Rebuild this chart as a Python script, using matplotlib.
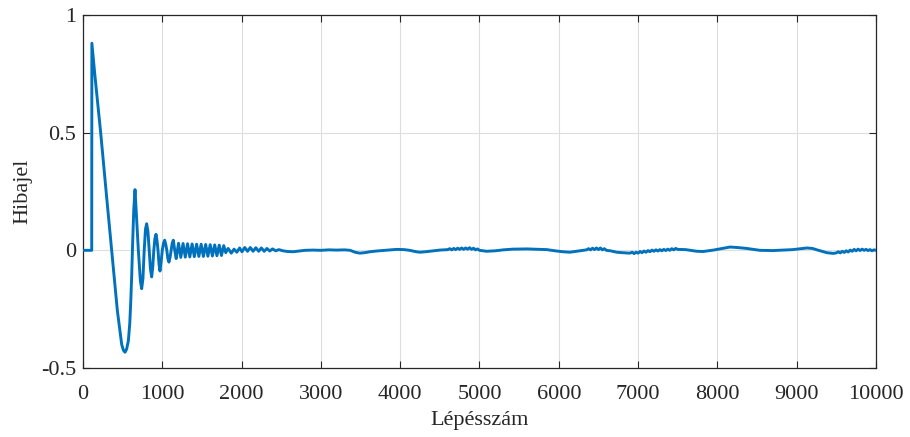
import matplotlib
matplotlib.use('Agg')
import matplotlib.pyplot as plt

# hibajel (error signal), step -> value
# startup: step jump, big undershoot, then damped oscillation
start_steps = [0, 110, 112, 151, 223, 300, 362, 433, 488, 510, 530, 550, 572, 590, 602, 614, 626, 640, 656,
               672, 698, 724, 740, 756, 772, 788, 803, 819, 835, 851, 866, 880, 893, 907, 921,
               934, 946, 959, 971, 985, 1000, 1015, 1030, 1044, 1057, 1070, 1084, 1098, 1112,
               1125, 1139, 1157, 1175]
start_err = [0, 0, 0.88, 0.74, 0.5, 0.22, 0.0, -0.255, -0.40, -0.425, -0.433, -0.42, -0.385, -0.31, -0.22, -0.11, 0.03, 0.17, 0.258,
             0.16, 0.0, -0.13, -0.163, -0.12, 0.0, 0.09, 0.113, 0.08, 0.0, -0.08, -0.113, -0.07, 0.0, 0.05, 0.068,
             0.04, 0.0, -0.06, -0.088, -0.05, 0.0, 0.03, 0.043, 0.025, 0.0, -0.035, -0.05, -0.03, 0.0,
             0.03, 0.043, 0.0, -0.035]

# fast ringing 1200-2000
ring_steps = [1205, 1233, 1262, 1290, 1319, 1347, 1376, 1404, 1433, 1461, 1490, 1518, 1547, 1575,
              1604, 1632, 1661, 1689, 1718, 1746, 1775, 1800, 1830, 1870, 1905, 1940, 1975]
ring_err = [0.03, -0.03, 0.029, -0.029, 0.028, -0.028, 0.027, -0.027, 0.026, -0.026, 0.026, -0.026, 0.025, -0.025,
            0.024, -0.024, 0.023, -0.023, 0.022, -0.022, 0.02, -0.01, 0.008, -0.012, 0.005, -0.008, 0.01]

# small ripples and slow drift 2000-4600
mid_steps = [2005, 2040, 2075, 2110, 2145, 2180, 2215, 2250, 2285, 2320, 2355, 2390, 2430, 2470, 2520,
             2580, 2650, 2720, 2800, 2900, 3000, 3100, 3200, 3300, 3370, 3430, 3490, 3550, 3620, 3700,
             3800, 3880, 3960, 4050, 4120, 4200, 4250, 4320, 4400, 4500]
mid_err = [-0.006, 0.012, -0.004, 0.012, -0.004, 0.011, -0.004, 0.01, -0.004, 0.008, -0.003, 0.006, -0.002, 0.003, -0.002,
           -0.005, -0.006, -0.003, 0.0, 0.001, 0.0, 0.002, 0.001, 0.002, 0.0, -0.008, -0.012, -0.01, -0.006, -0.003,
           0.0, 0.002, 0.004, 0.003, 0.0, -0.006, -0.008, -0.006, -0.003, 0.001]

late_steps = [4600, 4625, 4650, 4675, 4700, 4725, 4750, 4775, 4800, 4825, 4850, 4875, 4900, 4925, 4950, 4975,
              5000, 5090, 5200, 5300, 5420, 5600, 5750, 5850, 5950, 6050, 6140, 6250,
              6350, 6375, 6400, 6425, 6450, 6475, 6500, 6525, 6550, 6575, 6600, 6650, 6730, 6800,
              6898, 6925, 6950, 6975, 7000, 7025, 7050, 7075, 7100, 7125, 7150, 7175, 7200, 7225, 7250,
              7275, 7300, 7325, 7350, 7375, 7400, 7425, 7450, 7475, 7500, 7600, 7740, 7820, 7950, 8030,
              8160, 8250, 8370, 8537, 8700, 8950, 9130, 9200, 9255, 9380, 9460,
              9500, 9525, 9550, 9575, 9600, 9625, 9650, 9675, 9700, 9725, 9750, 9775, 9800, 9825, 9850,
              9875, 9900, 9925, 9950, 9975, 10000]
late_err = [0.003, 0.007, 0.002, 0.008, 0.003, 0.009, 0.004, 0.01, 0.004, 0.01, 0.005, 0.011, 0.004, 0.009, 0.002, 0.006,
            0.0, -0.004, -0.002, 0.002, 0.005, 0.006, 0.004, 0.003, -0.002, -0.006, -0.008, -0.003,
            0.002, 0.007, 0.002, 0.009, 0.003, 0.01, 0.003, 0.01, 0.002, 0.007, 0.0, -0.002, -0.008, -0.01,
            -0.012, -0.008, -0.014, -0.008, -0.012, -0.005, -0.01, -0.003, -0.008, -0.001, -0.006, 0.001, -0.004, 0.002, -0.003,
            0.003, -0.002, 0.004, -0.001, 0.005, 0.0, 0.007, 0.002, 0.008, 0.004, 0.003, -0.004, -0.005, 0.001, 0.006,
            0.014, 0.012, 0.008, 0.0, -0.001, 0.003, 0.01, 0.008, 0.002, -0.01, -0.013,
            -0.011, -0.006, -0.011, -0.004, -0.009, -0.002, -0.007, 0.001, -0.004, 0.004, -0.002, 0.005, -0.001, 0.005, 0.0,
            0.004, -0.001, 0.003, -0.002, 0.002, 0.0]

steps = start_steps + ring_steps + mid_steps + late_steps
err = start_err + ring_err + mid_err + late_err

x_ticks = list(range(0, 10001, 1000))
y_ticks = [-0.5, 0, 0.5, 1]
y_ticklabels = ['-0.5', '0', '0.5', '1']

plt.rcParams['font.family'] = ['Liberation Serif', 'DejaVu Serif']
plt.rcParams['font.size'] = 16

fig = plt.figure(figsize=(9.1, 4.37), dpi=100)
ax = fig.add_axes([0.0912, 0.1579, 0.8714, 0.8078])

ax.plot(steps, err, color='#0072BD', linewidth=2.1, zorder=3)

ax.set_xlim(0, 10000)
ax.set_ylim(-0.5, 1)
ax.set_xticks(x_ticks)
ax.set_yticks(y_ticks)
ax.set_yticklabels(y_ticklabels)
ax.grid(True, color='#dedede', linewidth=0.8)
ax.set_axisbelow(True)
ax.tick_params(direction='in', top=True, right=True, length=5, width=0.8,
               colors='#262626', labelcolor='#262626', pad=5)
ax.tick_params(axis='x', pad=12)
for s in ax.spines.values():
    s.set_color('#262626')
    s.set_linewidth(0.9)

ax.set_xlabel('Lépésszám', color='#262626', labelpad=5)
ax.set_ylabel('Hibajel', color='#262626', labelpad=6)

fig.savefig('out.png', dpi=100)
